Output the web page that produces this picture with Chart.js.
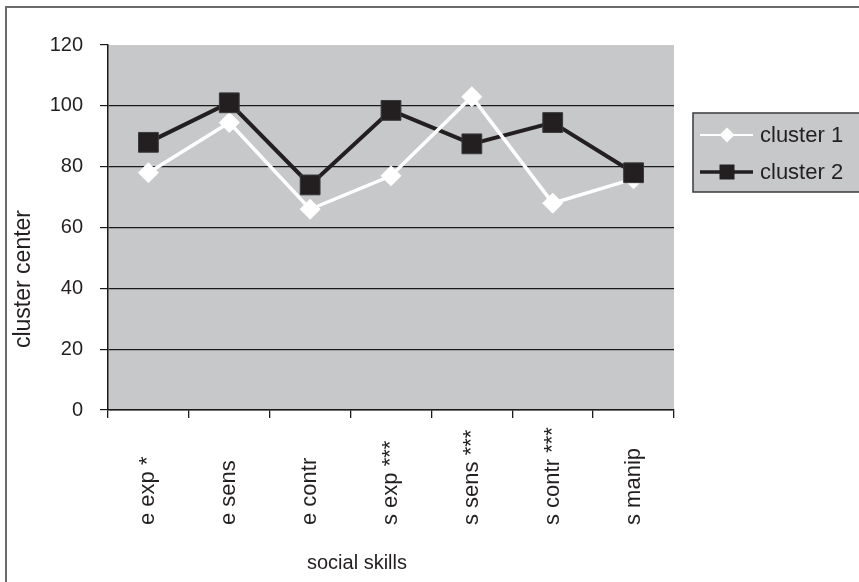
<!DOCTYPE html>
<html>
<head>
<meta charset="utf-8">
<script src="https://cdn.jsdelivr.net/npm/chart.js@4.4.1/dist/chart.umd.min.js"></script>
<style>
  html, body { margin: 0; padding: 0; background: #ffffff; }
  #c { display: block; }
</style>
</head>
<body>
<canvas id="c" width="859" height="582"></canvas>
<script>
const categories = ['e exp *', 'e sens', 'e contr', 's exp ***', 's sens ***', 's contr ***', 's manip'];
const cluster1 = [78, 94.5, 66, 77, 103, 68, 76];
const cluster2 = [88, 101, 74, 98.5, 87.5, 94.5, 78];
const yTicks = [0, 20, 40, 60, 80, 100, 120];
const seriesNames = ['cluster 1', 'cluster 2'];
const xTitle = 'social skills';
const yTitle = 'cluster center';

const FONT = '"Liberation Sans", Arial, Helvetica, sans-serif';
const TEXT = '#231f20';
const PLOT_BG = '#c7c8ca';

const frame = {
  id: 'frame',
  beforeDraw(chart) {
    const ctx = chart.ctx, a = chart.chartArea;
    ctx.save();
    ctx.fillStyle = '#ffffff';
    ctx.fillRect(0, 0, chart.width, chart.height);
    ctx.strokeStyle = '#6b6b6b';
    ctx.lineWidth = 2;
    ctx.strokeRect(6, 7, 1000, 1000);
    ctx.fillStyle = PLOT_BG;
    ctx.fillRect(a.left, a.top, a.right - a.left, a.bottom - a.top);
    ctx.restore();
  },
  afterDraw(chart) {
    const ctx = chart.ctx;
    const xs = chart.scales.x;
    ctx.save();
    ctx.fillStyle = TEXT;
    // rotated category labels, bottom-aligned
    ctx.font = '22px ' + FONT;
    ctx.textAlign = 'left';
    ctx.textBaseline = 'middle';
    categories.forEach((lab, i) => {
      const x = xs.getPixelForValue(i);
      ctx.save();
      ctx.translate(x, 525);
      ctx.rotate(-Math.PI / 2);
      ctx.fillText(lab, 0, 0);
      ctx.restore();
    });
    // axis titles
    ctx.font = '20px ' + FONT;
    ctx.textAlign = 'center';
    ctx.fillText(xTitle, 357, 563);
    ctx.save();
    ctx.translate(24, 279);
    ctx.rotate(-Math.PI / 2);
    ctx.font = '23px ' + FONT;
    ctx.fillText(yTitle, 0, 0);
    ctx.restore();

    // legend box
    const lx = 693, ly = 113, lw = 200, lh = 79;
    ctx.fillStyle = PLOT_BG;
    ctx.fillRect(lx, ly, lw, lh);
    ctx.strokeStyle = '#3a3a3a';
    ctx.lineWidth = 1.5;
    ctx.strokeRect(lx, ly, lw, lh);
    const rows = [
      { y: 135, ds: chart.data.datasets[2] },
      { y: 172, ds: chart.data.datasets[3] }
    ];
    rows.forEach((r, i) => {
      ctx.strokeStyle = r.ds.borderColor;
      ctx.lineWidth = i === 0 ? 2 : 3.5;
      ctx.beginPath();
      ctx.moveTo(700, r.y);
      ctx.lineTo(753, r.y);
      ctx.stroke();
      ctx.fillStyle = r.ds.pointBackgroundColor;
      ctx.beginPath();
      if (i === 0) {
        ctx.moveTo(727, r.y - 7.5);
        ctx.lineTo(734.5, r.y);
        ctx.lineTo(727, r.y + 7.5);
        ctx.lineTo(719.5, r.y);
        ctx.closePath();
      } else {
        ctx.rect(719.5, r.y - 7.5, 15, 15);
      }
      ctx.fill();
      ctx.fillStyle = TEXT;
      ctx.font = '22px ' + FONT;
      ctx.textAlign = 'left';
      ctx.textBaseline = 'middle';
      ctx.fillText(seriesNames[i], 760, r.y + 1);
    });
    ctx.restore();
  }
};

new Chart(document.getElementById('c'), {
  type: 'line',
  data: {
    labels: categories,
    datasets: [
      { label: seriesNames[1] + ' line', data: cluster2, borderColor: '#231f20', borderWidth: 4,
        pointRadius: 0, order: 3, fill: false, tension: 0 },
      { label: seriesNames[0] + ' line', data: cluster1, borderColor: '#ffffff', borderWidth: 3.5,
        pointRadius: 0, order: 2, fill: false, tension: 0 },
      { label: seriesNames[0], data: cluster1, showLine: false, borderColor: '#ffffff',
        pointStyle: 'rectRot', pointRadius: 10, pointBackgroundColor: '#ffffff',
        pointBorderColor: '#ffffff', pointBorderWidth: 1, order: 1 },
      { label: seriesNames[1], data: cluster2, showLine: false, borderColor: '#231f20',
        pointStyle: 'rect', pointRadius: 14, pointBackgroundColor: '#231f20',
        pointBorderColor: '#3a3a3a', pointBorderWidth: 1, order: 0 }
    ]
  },
  options: {
    responsive: false,
    devicePixelRatio: 1,
    animation: false,
    events: [],
    layout: { padding: { left: 0, top: 45, right: 185, bottom: 0 } },
    plugins: { legend: { display: false }, tooltip: { enabled: false }, title: { display: false } },
    scales: {
      x: {
        type: 'category',
        offset: true,
        grid: { offset: true, drawOnChartArea: false, drawTicks: true, tickLength: 8, color: '#1a1a1a', lineWidth: 1.3 },
        border: { display: true, color: '#1a1a1a', width: 1.5 },
        ticks: { display: false },
        afterFit(s) { s.height = 172; }
      },
      y: {
        min: 0, max: 120,
        afterBuildTicks(s) { s.ticks = yTicks.map(v => ({ value: v })); },
        grid: {
          color: ctx => (ctx.tick && ctx.tick.value === 120) ? 'rgba(0,0,0,0)' : '#1a1a1a',
          tickColor: '#1a1a1a',
          lineWidth: 1.2, tickLength: 8, drawTicks: true
        },
        border: { display: true, color: '#1a1a1a', width: 1.5 },
        ticks: { padding: 17, color: TEXT, font: { family: FONT, size: 20 } },
        afterFit(s) { s.width = 108; }
      }
    }
  },
  plugins: [frame]
});
</script>
</body>
</html>
